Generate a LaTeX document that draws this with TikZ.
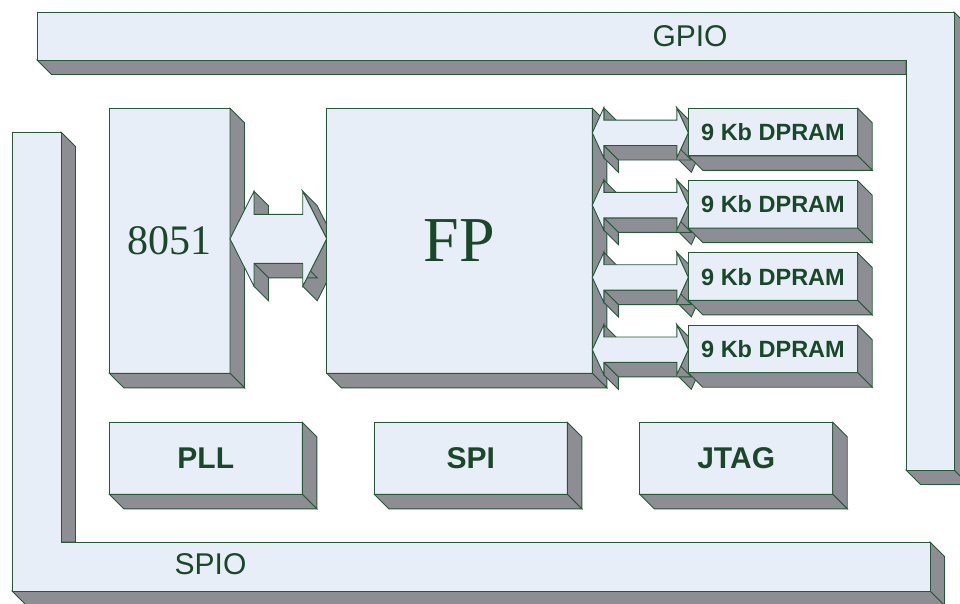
\documentclass[tikz,border=0pt]{standalone}
\usepackage{fontspec}
\setmainfont{Liberation Serif}
\setsansfont{Liberation Sans}
\usetikzlibrary{positioning}

\definecolor{facefill}{RGB}{232,238,247}
\definecolor{sidefill}{RGB}{140,142,148}
\definecolor{edgegreen}{RGB}{38,88,56}
\definecolor{labelgreen}{RGB}{24,72,40}

\newcommand{\blockdepth}{14.5}
% grey right and bottom faces of a block node
\newcommand{\extrude}[1]{%
  \filldraw[side] (#1.north east) -- ++(\blockdepth,-\blockdepth) -- ([shift={(\blockdepth,-\blockdepth)}]#1.south east) -- (#1.south east) -- cycle;
  \filldraw[side] (#1.south west) -- ++(\blockdepth,-\blockdepth) -- ([shift={(\blockdepth,-\blockdepth)}]#1.south east) -- (#1.south east) -- cycle;}
% 3D double bus arrow: tip, length, head length, head half height, shaft half height
\newcommand{\busarrow}[5]{%
  \begin{scope}[shift={(#1)}]
    \filldraw[side] (#3,#4) -- (#3,#5) -- (#3+\blockdepth,#5-\blockdepth) -- (#3+\blockdepth,#4-\blockdepth) -- cycle;
    \filldraw[side] (#2-#3,#4) -- (#2,0) -- (#2+\blockdepth,-\blockdepth) -- (#2-#3+\blockdepth,#4-\blockdepth) -- cycle;
    \filldraw[side] (#2,0) -- (#2-#3,-#4) -- (#2-#3+\blockdepth,-#4-\blockdepth) -- (#2+\blockdepth,-\blockdepth) -- cycle;
    \filldraw[side] (#2-#3,-#5) -- (#3,-#5) -- (#3+\blockdepth,-#5-\blockdepth) -- (#2-#3+\blockdepth,-#5-\blockdepth) -- cycle;
    \filldraw[side] (#3,-#5) -- (#3,-#4) -- (#3+\blockdepth,-#4-\blockdepth) -- (#3+\blockdepth,-#5-\blockdepth) -- cycle;
    \filldraw[face] (0,0) -- (#3,#4) -- (#3,#5) -- (#2-#3,#5) -- (#2-#3,#4) -- (#2,0) -- (#2-#3,-#4) -- (#2-#3,-#5) -- (#3,-#5) -- (#3,-#4) -- cycle;
  \end{scope}}

\begin{document}
\begin{tikzpicture}[x=1pt,y=1pt,
 face/.style={fill=facefill,draw=edgegreen,line width=.9pt},
 side/.style={fill=sidefill,draw=edgegreen,line width=.9pt},
 block/.style={face,outer sep=0pt,inner sep=0pt,text=labelgreen,align=center},
 unit/.style={block,minimum width=193pt,minimum height=72pt,font=\sffamily\bfseries\fontsize{30}{34}\selectfont},
 dpram/.style={block,minimum width=169.4pt,minimum height=47.5pt,font=\sffamily\bfseries\fontsize{23.5}{27}\selectfont},
 portlabel/.style={text=labelgreen,inner sep=0pt,font=\sffamily\fontsize{30}{34}\selectfont}
]
\useasboundingbox (0,0) rectangle (960,-603);
\clip (0,0) rectangle (960,-603);
% GPIO ring
\filldraw[side] (37,-60) -- (51.5,-74.5) -- (906,-74.5) -- (906,-60) -- cycle;
\filldraw[side] (954,-12) -- (968.5,-26.5) -- (968.5,-484.5) -- (954,-470) -- cycle;
\filldraw[side] (906,-470) -- (920.5,-484.5) -- (968.5,-484.5) -- (954,-470) -- cycle;
\filldraw[face] (37,-12) -- (954,-12) -- (954,-470) -- (906,-470) -- (906,-60) -- (37,-60) -- cycle;
\node[portlabel] (gpio) at (690,-36) {GPIO};
% SPIO ring
\filldraw[side] (61,-132) -- (75.5,-146.5) -- (75.5,-542) -- (61,-542) -- cycle;
\filldraw[side] (930,-542) -- (944.5,-556.5) -- (944.5,-605.5) -- (930,-591) -- cycle;
\filldraw[side] (12,-591) -- (26.5,-605.5) -- (944.5,-605.5) -- (930,-591) -- cycle;
\filldraw[face] (12,-132) -- (61,-132) -- (61,-542) -- (930,-542) -- (930,-591) -- (12,-591) -- cycle;
\node[portlabel] (spio) at (210.5,-564.5) {SPIO};

\node[block,minimum width=120.7pt,minimum height=265pt,font=\fontsize{42}{48}\selectfont] (cpu) at (169.65,-240.8) {8051};
\extrude{cpu}
\coordinate (cpubus) at ([yshift=2pt]cpu.east);
\busarrow{cpubus}{96.7}{24}{47.5}{24.5}
\node[block,minimum width=265.6pt,minimum height=265pt,font=\fontsize{64}{70}\selectfont,right=96.7pt of cpu] (fp) {FP};
\extrude{fp}
\foreach \k in {1,...,4}{
  \coordinate (bus\k) at ([yshift={-24.5-72.3*(\k-1)}]fp.north east);
  \busarrow{bus\k}{96}{11.5}{25}{12.7}
}
\node[dpram,below right=0pt and 96pt of fp.north east] (ram1) {9 Kb DPRAM};
\extrude{ram1}
\node[dpram,below=24.8pt of ram1] (ram2) {9 Kb DPRAM};
\extrude{ram2}
\node[dpram,below=24.8pt of ram2] (ram3) {9 Kb DPRAM};
\extrude{ram3}
\node[dpram,below=24.8pt of ram3] (ram4) {9 Kb DPRAM};
\extrude{ram4}

\node[unit,below right=49pt and 0pt of cpu.south west] (pll) {PLL};
\extrude{pll}
\node[unit,right=72pt of pll] (spi) {SPI};
\extrude{spi}
\node[unit,right=72.4pt of spi] (jtag) {JTAG};
\extrude{jtag}
\end{tikzpicture}
\end{document}
